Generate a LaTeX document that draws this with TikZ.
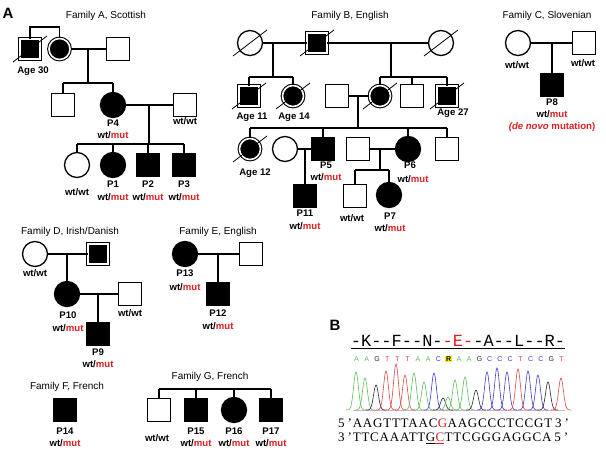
\documentclass[tikz,border=0pt]{standalone}
\usepackage{fontspec}
\setmainfont{Liberation Sans}
\newfontfamily\seqfont{Liberation Serif}[LetterSpace=6]
\newfontfamily\protfont{Liberation Mono}
\definecolor{myred}{RGB}{220,30,35}
\definecolor{cg}{RGB}{90,190,90}
\definecolor{cr}{RGB}{215,70,70}
\definecolor{cb}{RGB}{60,60,200}
\definecolor{ck}{RGB}{40,40,40}
\newcommand\wtmut{wt/\textcolor{myred}{mut}}
\newcommand\hy{-\kern0pt }
\newcommand\slashnode[1]{\draw[sl] ([shift={(-17pt,-13pt)}]#1.center) -- ([shift={(17pt,13pt)}]#1.center);}
\tikzset{
 ped/.style={line width=1.3pt},
 osq/.style={draw, line width=1.3pt, rectangle, minimum size=23pt, inner sep=0pt},
 fsq/.style={osq, fill=black},
 oci/.style={draw, line width=1.3pt, circle, minimum size=25pt, inner sep=0pt},
 fci/.style={oci, fill=black},
 dsq/.style={draw, rectangle, fill=black, line width=1.1pt, double=white, double distance=1.6pt, minimum size=19.5pt, inner sep=0pt},
 dci/.style={draw, circle, fill=black, line width=1.1pt, double=white, double distance=1.6pt, minimum size=21pt, inner sep=0pt},
 lab/.style={font=\bfseries\fontsize{9.6}{11}\selectfont, inner sep=0pt},
 ttl/.style={font=\fontsize{10}{12}\selectfont, inner sep=0pt},
 sl/.style={line width=0.8pt},
 big/.style={font=\bfseries\fontsize{15}{15}\selectfont, inner sep=0pt},
 seq/.style={anchor=base west, inner sep=0pt, font=\seqfont\fontsize{13}{14}\selectfont},
 base/.style={inner sep=0pt, font=\fontsize{7}{8}\selectfont},
}
\begin{document}
\begin{tikzpicture}[x=1pt,y=-1pt]
\useasboundingbox (0,0) rectangle (606,455);
% ================= Family A
\node[big] (lA) at (8,13) {A};
\node[ttl] (tA) at (106,16) {Family A, Scottish};
\node[dsq] (a1) at (30,49) {};
\node[dci] (a2) at (59.5,49) {};
\node[osq] (a3) at (118,49) {};
\slashnode{a1}
\coordinate (atop) at (45,27);
\draw[ped] (a1.north) -- (a1.north |- atop) -- (a2.north |- atop) -- (a2.north);
\draw[ped] (a2) -- (a3);
\node[lab] (ag30) at (33,71) {Age 30};
\coordinate (am) at (88,49); \coordinate (as) at (88,83);
\draw[ped] (am) -- (as);
\node[osq] (a4) at (63,105) {};
\node[fci] (a5) at (113,105) {};
\node[osq] (a6) at (185,105) {};
\draw[ped] (a4.north |- as) -- (a5.north |- as);
\draw[ped] (a4.north |- as) -- (a4.north);
\draw[ped] (a5.north |- as) -- (a5.north);
\draw[ped] (a5) -- (a6);
\node[lab] (la6) at (185,121) {wt/wt};
\node[lab] (lP4) at (113,123) {P4};
\node[lab] (gP4) at (113,135) {\wtmut};
\coordinate (am2) at (149,105); \coordinate (as2) at (149,144);
\draw[ped] (am2) -- (as2);
\node[oci] (a7) at (77,165) {};
\node[fci] (a8) at (113,165) {};
\node[fsq] (a9) at (148,165) {};
\node[fsq] (a10) at (184,165) {};
\draw[ped] (a7.north |- as2) -- (a10.north |- as2);
\foreach \n in {a7,a8,a9,a10} \draw[ped] (\n.north |- as2) -- (\n.north);
\node[lab] (la7) at (77,192) {wt/wt};
\node[lab] (lP1) at (113,184) {P1};
\node[lab] (gP1) at (113,197) {\wtmut};
\node[lab] (lP2) at (148,184) {P2};
\node[lab] (gP2) at (148,197) {\wtmut};
\node[lab] (lP3) at (184,184) {P3};
\node[lab] (gP3) at (184,197) {\wtmut};
% ================= Family B
\node[ttl] (tB) at (350,16) {Family B, English};
\node[oci] (b1) at (250,43) {};
\node[dsq] (b2) at (317,43) {};
\node[oci] (b3) at (441,43) {};
\slashnode{b1} \slashnode{b2} \slashnode{b3}
\draw[ped] (b1) -- (b2);
\draw[ped] (b2) -- (b3);
\coordinate (bm1) at (273,43); \coordinate (bs1) at (273,77);
\coordinate (bm2) at (391,43); \coordinate (bs2) at (391,77);
\draw[ped] (bm1) -- (bs1);
\draw[ped] (bm2) -- (bs2);
\node[dsq] (b4) at (249,96) {};
\node[dci] (b5) at (293,96) {};
\node[osq] (b6) at (337,96) {};
\node[dci] (b7) at (380,96) {};
\node[osq] (b8) at (412,96) {};
\node[dsq] (b9) at (447,96) {};
\slashnode{b4} \slashnode{b5} \slashnode{b7} \slashnode{b9}
\draw[ped] (b4.north |- bs1) -- (b5.north |- bs1);
\draw[ped] (b4.north |- bs1) -- (b4.north);
\draw[ped] (b5.north |- bs1) -- (b5.north);
\draw[ped] (b7.north |- bs2) -- (b9.north |- bs2);
\foreach \n in {b7,b8,b9} \draw[ped] (\n.north |- bs2) -- (\n.north);
\draw[ped] (b6) -- (b7);
\node[lab] (ag11) at (252,117) {Age 11};
\node[lab] (ag14) at (294,117) {Age 14};
\node[lab] (ag27) at (453,113) {Age 27};
\coordinate (bm3) at (358,96); \coordinate (bs3) at (358,128);
\draw[ped] (bm3) -- (bs3);
\node[dci] (b10) at (250,149) {};
\node[oci] (b11) at (285,149) {};
\node[fsq] (b12) at (323,149) {};
\node[osq] (b14) at (358,149) {};
\node[fci] (b15) at (408,149) {};
\node[osq] (b16) at (447,149) {};
\slashnode{b10}
\draw[ped] (b10.north |- bs3) -- (b16.north |- bs3);
\foreach \n in {b10,b12,b15,b16} \draw[ped] (\n.north |- bs3) -- (\n.north);
\draw[ped] (b11) -- (b12);
\draw[ped] (b14) -- (b15);
\node[lab] (ag12) at (255,173) {Age 12};
\node[lab] (lP5) at (326,165) {P5};
\node[lab] (gP5) at (326,177) {\wtmut};
\node[lab] (lP6) at (410,165) {P6};
\node[lab] (gP6) at (413,179) {\wtmut};
\coordinate (bm4) at (305,149);
\node[fsq] (b13) at (305,196) {};
\draw[ped] (bm4) -- (b13.north);
\node[lab] (lP11) at (305,213) {P11};
\node[lab] (gP11) at (305,226) {\wtmut};
\coordinate (bm5) at (380,149); \coordinate (bs5) at (380,170);
\draw[ped] (bm5) -- (bs5);
\node[osq] (b17) at (355,196) {};
\node[fci] (b18) at (389,195) {};
\draw[ped] (b17.north |- bs5) -- (b18.north |- bs5);
\draw[ped] (b17.north |- bs5) -- (b17.north);
\draw[ped] (b18.north |- bs5) -- (b18.north);
\node[lab] (lb17) at (352,218) {wt/wt};
\node[lab] (lP7) at (390,216) {P7};
\node[lab] (gP7) at (390,228) {\wtmut};
% ================= Family C
\node[ttl] (tC) at (547,16) {Family C, Slovenian};
\node[oci] (c1) at (518,43) {};
\node[osq] (c2) at (584,43) {};
\draw[ped] (c1) -- (c2);
\node[fsq] (c3) at (552,85) {};
\coordinate (cm) at (552,43);
\draw[ped] (cm) -- (c3.north);
\node[lab] (lc1) at (517,65) {wt/wt};
\node[lab] (lc2) at (583,63) {wt/wt};
\node[lab] (lP8) at (552,102) {P8};
\node[lab] (gP8) at (552,114) {\wtmut};
\node[lab, text=myred] (dn) at (552,127) {\textit{(de novo} mutation)};
% ================= Family D
\node[ttl] (tD) at (70,232) {Family D, Irish/Danish};
\node[oci] (d1) at (35,254) {};
\node[dsq] (d2) at (98,254) {};
\draw[ped] (d1) -- (d2);
\node[fci] (d3) at (67,294) {};
\coordinate (dm) at (67,254);
\draw[ped] (dm) -- (d3.north);
\node[osq] (d4) at (130,294) {};
\draw[ped] (d3) -- (d4);
\node[fsq] (d5) at (98,334) {};
\coordinate (dm2) at (98,294);
\draw[ped] (dm2) -- (d5.north);
\node[lab] (ld1) at (35,273) {wt/wt};
\node[lab] (ld4) at (130,313) {wt/wt};
\node[lab] (lP10) at (68,315) {P10};
\node[lab] (gP10) at (68,328) {\wtmut};
\node[lab] (lP9) at (98,352) {P9};
\node[lab] (gP9) at (98,364) {\wtmut};
% ================= Family E
\node[ttl] (tE) at (218,232) {Family E, English};
\node[fci] (e1) at (185,254) {};
\node[osq] (e2) at (251,254) {};
\draw[ped] (e1) -- (e2);
\node[fsq] (e3) at (218,294) {};
\coordinate (em) at (218,254);
\draw[ped] (em) -- (e3.north);
\node[lab] (lP13) at (185,273) {P13};
\node[lab] (gP13) at (185,287) {\wtmut};
\node[lab] (lP12) at (218,313) {P12};
\node[lab] (gP12) at (218,326) {\wtmut};
% ================= Family F
\node[ttl] (tF) at (67,387) {Family F, French};
\node[fsq] (f1) at (65,410) {};
\node[lab] (lP14) at (65,431) {P14};
\node[lab] (gP14) at (65,443) {\wtmut};
% ================= Family G
\node[ttl] (tG) at (210,377) {Family G, French};
\coordinate (gs) at (210,389);
\node[osq] (g1) at (159,410) {};
\node[fsq] (g2) at (196,410) {};
\node[fci] (g3) at (234,410) {};
\node[fsq] (g4) at (271,410) {};
\draw[ped] (g1.north |- gs) -- (g4.north |- gs);
\foreach \n in {g1,g2,g3,g4} \draw[ped] (\n.north |- gs) -- (\n.north);
\node[lab] (lg1) at (157,438) {wt/wt};
\node[lab] (lP15) at (196,431) {P15};
\node[lab] (gP15) at (196,443) {\wtmut};
\node[lab] (lP16) at (234,431) {P16};
\node[lab] (gP16) at (234,443) {\wtmut};
\node[lab] (lP17) at (271,431) {P17};
\node[lab] (gP17) at (271,443) {\wtmut};
% ================= Panel B
\node[big] (lB) at (335,325) {B};
\node[inner sep=0pt, font=\protfont\fontsize{17}{17}\selectfont] (prot) at (458,341)
  {\hy K\hy\hy F\hy\hy N\hy\textcolor{myred}{\hy E\hy}\hy A\hy\hy L\hy\hy R\hy};
\draw[line width=0.8pt] ([yshift=-2pt]prot.south west) -- ([yshift=-2pt]prot.south east);
\foreach \bx/\bl/\bc [count=\i] in {356.5/A/cg,366.75/A/cg,377/G/ck,387.25/T/cr,397.5/T/cr,407.75/T/cr,418/A/cg,428.25/A/cg,438.5/C/cb,459/A/cg,469.25/A/cg,479.5/G/ck,489.75/C/cb,500/C/cb,510.25/C/cb,520.5/T/cr,530.75/C/cb,541/C/cb,551.25/G/ck,561.5/T/cr}
  \node[base, text=\bc] (bl\i) at (\bx,359) {\bl};
\node[base, fill=yellow, inner sep=0.8pt, font=\bfseries\fontsize{7}{8}\selectfont] (blR) at (448.75,359) {R};
\draw[gray!60!magenta!50, line width=0.6pt] (353,410) -- (565,410);
\foreach \px/\ph/\cc in {356/372/cg,365/378/cg,376/385/ck,386/371/cr,396/364/cr,405/375/cr,414/373/cg,424/382/cg,434/373/cb,443/398/ck,448/397/cg,455/380/cg,465/377/cg,476/390/ck,487/372/cb,497/368/cb,507/372/cb,518/369/cr,528/371/cb,538/375/cb,548/382/ck,561/378/cr}
  \draw[\cc, line width=0.6pt] plot[domain=\px-10:\px+10, samples=31, smooth]
    (\x, {410-(410-\ph)*exp(-(((\x-\px)/3.4)*((\x-\px)/3.4)))});
\node[seq] (s1a) at (338,427) {5\hspace{3pt}’AAGTTTAAC};
\node[seq, text=myred] (s1b) at (s1a.base east) {G};
\node[seq] (s1c) at (s1b.base east) {AAGCCCTCCGT\hspace{3pt}3\hspace{3pt}’};
\node[seq] (s2a) at (338,441) {3\hspace{3pt}’TTCAAATT};
\node[seq] (s2b) at (s2a.base east) {G};
\node[seq, text=myred] (s2c) at (s2b.base east) {C};
\node[seq] (s2d) at (s2c.base east) {TTCGGGAGGCA\hspace{3pt}5\hspace{3pt}’};
\draw[line width=0.9pt] ([yshift=-2.5pt]s2b.base west) -- ([yshift=-2.5pt]s2b.base east);
\draw[myred, line width=0.9pt] ([yshift=-2.5pt]s2c.base west) -- ([yshift=-2.5pt]s2c.base east);
\end{tikzpicture}
\end{document}
